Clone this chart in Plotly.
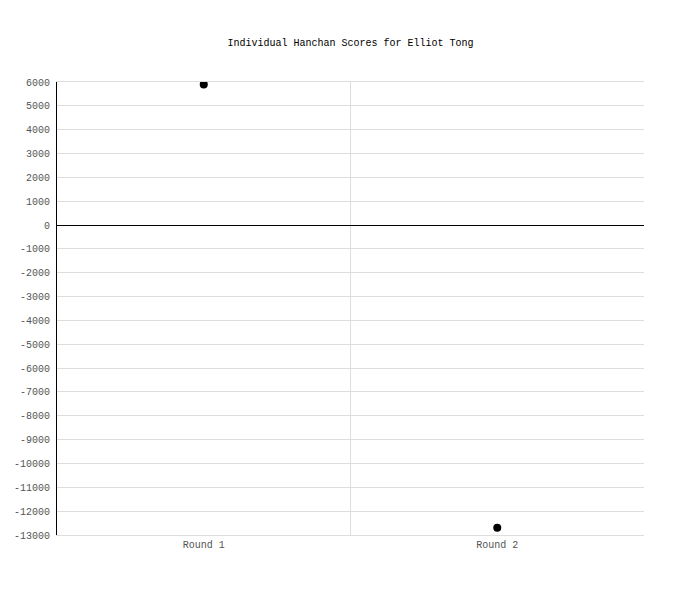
import plotly.graph_objects as go

rounds = ["Round 1", "Round 2"]
scores = [5900, -12700]
y_ticks = list(range(-13000, 7000, 1000))

fig = go.Figure()
fig.add_trace(go.Scatter(
    x=rounds, y=scores, mode="markers",
    marker=dict(color="black", size=8),
    showlegend=False,
))

# page has ~8px body margin, so offsets are shifted accordingly
fig.update_layout(
    width=700, height=600,
    margin=dict(l=49, r=64, t=74, b=73),
    paper_bgcolor="white", plot_bgcolor="white",
    font=dict(family="Liberation Mono, DejaVu Sans Mono, monospace", size=10, color="#555"),
    title=dict(text="Individual Hanchan Scores for Elliot Tong",
               x=(49 + (700 - 49 - 64) / 2) / 700, xanchor="center",
               y=1 - 34 / 600, yanchor="middle",
               font=dict(size=10, color="black")),
)
fig.update_xaxes(
    type="category", tickson="boundaries", ticklen=0,
    showgrid=True, gridcolor="#ddd", gridwidth=1,
    showline=True, linecolor="#ddd", mirror=True,
    range=[-0.5, 1.5], automargin=False,
)
fig.update_yaxes(
    range=[-13000, 6000], tickvals=y_ticks, ticktext=[str(v) for v in y_ticks],
    showgrid=True, gridcolor="#ddd", gridwidth=1,
    zeroline=True, zerolinecolor="black", zerolinewidth=1,
    showline=True, linecolor="black", linewidth=1,
    ticks="", ticklabelstandoff=4, automargin=False,
)

fig.write_html("out.html")
